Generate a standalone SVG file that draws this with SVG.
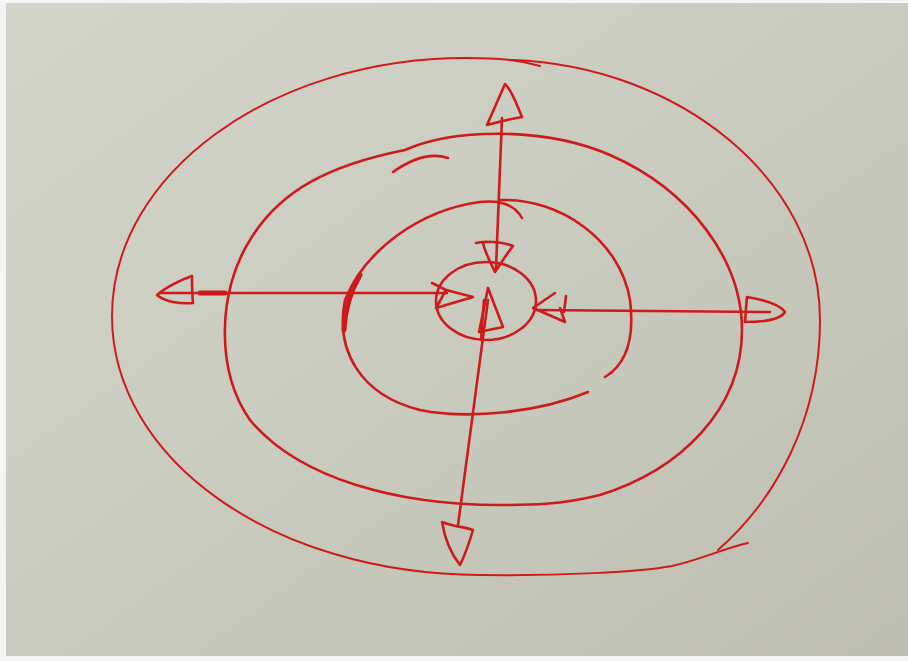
<svg xmlns="http://www.w3.org/2000/svg" width="908" height="661" viewBox="0 0 908 661">
<defs>
<linearGradient id="paper" x1="0" y1="0" x2="1" y2="1">
<stop offset="0" stop-color="#d4d5ca"/>
<stop offset="0.5" stop-color="#cacbbf"/>
<stop offset="1" stop-color="#bdbeb1"/>
</linearGradient>
<style>
.ink{fill:none;stroke:#cf1a1c;stroke-width:2.6;stroke-linecap:round;stroke-linejoin:round}
.thin{stroke-width:2}
.thick{stroke-width:5}
</style>
</defs>
<rect width="908" height="661" fill="#f4f4f2"/>
<rect x="6" y="3" width="902" height="653" fill="url(#paper)"/>
<g id="ring-outer">
<path class="ink thin" d="M 540,66 C 520,60 500,58 466,58 C 271,58 112,174 112,316 C 112,458 271,574 480,575 C 560,576 640,572 672,566 C 700,560 725,548 748,543"/>
<path class="ink thin" d="M 512,60 C 680,66 820,180 820,320 C 820,420 775,500 718,550"/>
</g>
<g id="ring-second">
<path class="ink" d="M 405,150 C 450,130 540,125 610,155 C 690,190 742,260 742,330 C 742,410 680,470 600,495 C 560,505 530,505 500,505 C 400,505 300,480 250,420 C 215,370 218,290 250,240 C 280,190 330,165 405,150"/>
<path class="ink" d="M 393,172 C 410,160 430,152 448,158"/>
</g>
<g id="ring-third">
<path class="ink" d="M 522,218 C 515,205 500,200 480,202 C 420,210 365,250 345,300 C 335,350 360,395 420,410 C 470,420 540,412 588,392"/>
<path class="ink" d="M 500,200 C 560,198 620,240 630,300 C 635,340 625,365 605,377"/>
<path class="ink thick" d="M 360,275 C 350,292 345,310 344,330"/>
</g>
<g id="ring-center">
<ellipse class="ink" cx="486" cy="301" rx="50" ry="39"/>
</g>
<g id="connectors">
<path class="ink" d="M 502,118 L 496,268"/>
<path class="ink" d="M 488,300 L 458,525"/>
<path class="ink" d="M 160,293 L 447,293"/>
<path class="ink thick" d="M 200,293 L 225,293"/>
<path class="ink" d="M 535,310 L 770,312"/>
<path class="ink" d="M 487,125 L 505,84 C 512,90 518,108 522,117 C 510,119 498,122 487,125"/>
<path class="ink" d="M 476,243 C 490,240 505,243 513,246 C 505,256 500,265 495,272 C 490,262 485,252 483,243"/>
<path class="ink" d="M 192,276 C 180,280 165,288 157,295 C 165,302 180,304 193,303 C 192,293 192,285 192,276"/>
<path class="ink" d="M 432,283 L 446,290 L 473,297 L 436,308 L 446,290"/>
<path class="ink" d="M 747,297 C 765,300 780,305 785,312 C 780,320 765,322 745,322 C 746,313 746,305 747,297"/>
<path class="ink" d="M 555,293 L 533,308 L 565,322 L 560,308"/>
<path class="ink" d="M 566,296 L 564,312"/>
<path class="ink" d="M 442,522 C 445,540 452,555 460,565 C 465,555 470,540 473,530 C 465,527 455,527 442,522"/>
<path class="ink" d="M 488,288 L 479,332 L 503,327 Z"/>
<path class="ink" d="M 484,300 L 481,340"/>
</g>
</svg>
